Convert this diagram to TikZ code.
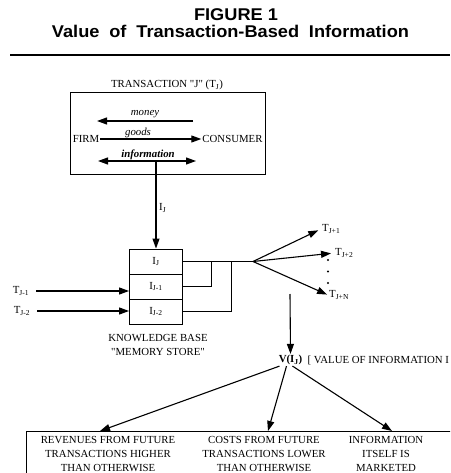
\documentclass[tikz,border=0pt]{standalone}
\usepackage{fontspec}
\setmainfont{Liberation Serif}
\newfontfamily\titlefont{Liberation Sans}
% same face without TeX ligatures, for straight double quotes
\newfontfamily\rawserif{Liberation Serif}
\newcommand{\dq}{{\rawserif"}}
\usetikzlibrary{arrows.meta,calc}

\tikzset{
  txt/.style={inner sep=1pt, font=\fontsize{10.8}{15}\selectfont},
  headline/.style={inner sep=0pt, xscale=1.07, font=\titlefont\bfseries\fontsize{17}{20}\selectfont},
  flow/.style={line width=1.1pt, -{Triangle[length=10pt,width=7pt]}},
  both/.style={line width=1.1pt, {Triangle[length=10pt,width=7pt]}-{Triangle[length=10pt,width=7pt]}},
  frame/.style={draw, line width=0.9pt, inner sep=0pt},
  cell/.style={draw, line width=0.9pt, minimum width=53pt, minimum height=25pt, inner sep=0pt,
    font=\fontsize{10.8}{15}\selectfont},
  wire/.style={line width=0.9pt},
  column/.style={inner sep=1pt, align=center, font=\fontsize{10.8}{14}\selectfont},
}

\begin{document}
\begin{tikzpicture}[x=1pt,y=-1pt]
\useasboundingbox (0,0) rectangle (450,473);
\clip (0,0) rectangle (450,473);

% heading
\node[headline] (fig) at (236,15) {FIGURE 1};
\node[headline] (caption) at (230.5,31) {{\spaceskip=9.2pt plus 1pt Value of Transaction-Based Information}};
\coordinate (ruleL) at (10,55);
\coordinate (ruleR) at (450,55);
\draw[line width=1.6pt] (ruleL) -- (ruleR);

% transaction box
\node[frame, minimum width=195pt, minimum height=82pt] (tbox) at (167.5,133) {};
\node[txt] (ttitle) at (167,85) {TRANSACTION \dq J\dq{} (T\textsubscript{J})};
\node[txt] (firm) at (86,139) {FIRM};
\node[txt] (consumer) at (232.5,139) {CONSUMER};

\coordinate (mR) at (193,121);
\coordinate (mL) at (97,121);
\draw[flow] (mR) -- (mL);
\node[txt, font=\fontsize{10.8}{15}\selectfont\itshape] (money) at (145,114.5) {money};

\draw[flow] (firm.east) -- (consumer.west);
\node[txt, font=\fontsize{10.8}{15}\selectfont\itshape] (goods) at (138,132.5) {goods};

\coordinate (iL) at (98,161);
\coordinate (iR) at (196,161);
\draw[both] (iL) -- (iR);
\node[txt, font=\fontsize{10.8}{15}\selectfont\bfseries\itshape] (info) at (148,154.5) {information};

% knowledge base stack
\node[cell] (c1) at (156,261.5) {I\textsubscript{J}};
\node[cell] (c2) at (156,286.5) {I\textsubscript{J-1}};
\node[cell] (c3) at (156,311.5) {I\textsubscript{J-2}};
\node[column] (kb) at (158,345) {KNOWLEDGE BASE\\\dq MEMORY STORE\dq};

\coordinate (ij) at (156,161);
\draw[flow] (ij) -- (c1.north);
\node[txt, anchor=west] (ijlbl) at (158,208) {I\textsubscript{J}};

% earlier transactions
\node[txt] (tm1) at (21,291) {T\textsubscript{J-1}};
\node[txt] (tm2) at (22,311) {T\textsubscript{J-2}};
\draw[flow, shorten <=6pt] (tm1.east) -- (tm1.east -| c2.west);
\draw[flow, shorten <=6pt] (tm2.east) -- (tm2.east -| c3.west);

% links out of the stack
\coordinate (fan) at (253,261.5);
\coordinate (loop1) at (211,261.5);
\coordinate (loop2) at (231,261.5);
\draw[wire] (c1.east) -- (fan);
\draw[wire] (c2.east) -| (loop1);
\draw[wire] (c3.east) -| (loop2);

% future transactions
\node[txt, anchor=west] (tp1) at (321,229) {T\textsubscript{J+1}};
\node[txt, anchor=west] (tp2) at (334,253) {T\textsubscript{J+2}};
\node[txt, anchor=west] (tpn) at (328,295) {T\textsubscript{J+N}};
\draw[flow, shorten >=3pt] (fan) -- (tp1.west);
\draw[flow, shorten >=3pt] (fan) -- (tp2.west);
\draw[flow, shorten >=1pt] (fan) -- (tpn.west);
\coordinate (d1) at (328,260);
\coordinate (d2) at (328,271.5);
\coordinate (d3) at (328,283);
\foreach \d in {d1,d2,d3} \fill (\d) circle (1.1pt);

% value of information
\node[txt, font=\fontsize{10.8}{15}\selectfont\bfseries] (vij) at (290.5,360) {V(I\textsubscript{J})};
\node[txt, anchor=west, inner sep=0pt] (vtext) at ([xshift=4pt]vij.east) {[ VALUE OF INFORMATION I};
\coordinate (vtop) at (290,294);
\draw[flow] (vtop) -- (vij.north);

% consequences
\node[frame, anchor=north west, minimum width=440pt, minimum height=60pt] (bbox) at (26,431) {};
\node[column] (col1) at (108,454) {REVENUES FROM FUTURE\\TRANSACTIONS HIGHER\\THAN OTHERWISE};
\node[column] (col2) at (264,454) {COSTS FROM FUTURE\\TRANSACTIONS LOWER\\THAN OTHERWISE};
\node[column] (col3) at (386,454) {INFORMATION\\ITSELF IS\\MARKETED};

\draw[flow] ([xshift=-11pt]vij.south) -- ($(bbox.north west)+(74,0)$);
\draw[flow] ([xshift=-4pt]vij.south) -- ($(bbox.north west)+(242,0)$);
\draw[flow] ([xshift=2pt]vij.south) -- ($(bbox.north west)+(366,0)$);
\end{tikzpicture}
\end{document}
